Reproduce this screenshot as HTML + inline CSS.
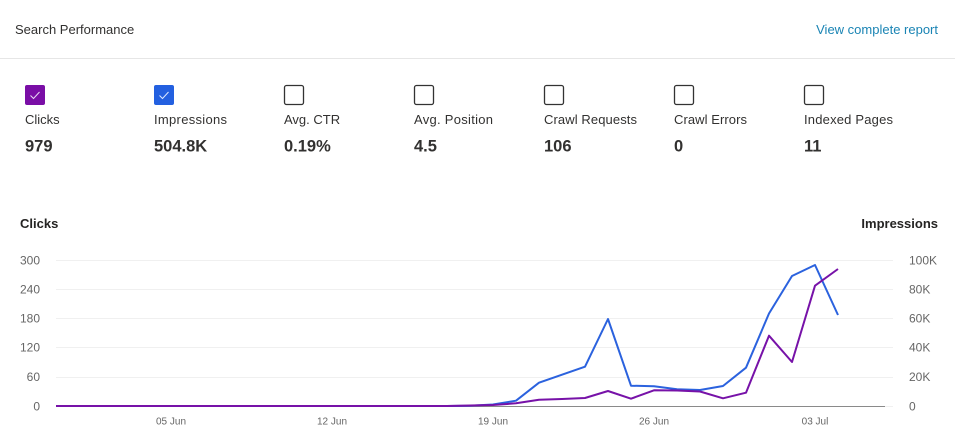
<!DOCTYPE html>
<html><head><meta charset="utf-8"><style>
html,body{margin:0;padding:0;background:#fff;}
svg{display:block;}
text{font-family:"Liberation Sans",Arial,sans-serif;}
</style></head><body>
<svg width="955" height="446" viewBox="0 0 955 446" xmlns="http://www.w3.org/2000/svg">
<rect width="955" height="446" fill="#fff"/>
<text x="15" y="34" font-size="13" fill="#323130">Search Performance</text>
<text x="938" y="34" font-size="13" fill="#1a84b4" text-anchor="end">View complete report</text>
<rect x="0" y="58" width="955" height="1" fill="#e6e6e6"/>

<!-- checkboxes -->
<rect x="25" y="85" width="20" height="20" rx="2" fill="#7a0ea6"/>
<path d="M30.5 95.5 L33.5 98.5 L39.5 92" stroke="#e8d8f4" stroke-width="1" fill="none"/>
<rect x="154" y="85" width="20" height="20" rx="2" fill="#2360e0"/>
<path d="M159.5 95.5 L162.5 98.5 L168.5 92" stroke="#dde8ff" stroke-width="1" fill="none"/>
<g fill="none" stroke="#333" stroke-width="1.3">
<rect x="284.5" y="85.5" width="19" height="19" rx="2"/>
<rect x="414.5" y="85.5" width="19" height="19" rx="2"/>
<rect x="544.5" y="85.5" width="19" height="19" rx="2"/>
<rect x="674.5" y="85.5" width="19" height="19" rx="2"/>
<rect x="804.5" y="85.5" width="19" height="19" rx="2"/>
</g>
<g font-size="13" fill="#323130" textLength="0">
<text x="25" y="124">Clicks</text>
<text x="154" y="124" textLength="73">Impressions</text>
<text x="284" y="124">Avg. CTR</text>
<text x="414" y="124" textLength="79">Avg. Position</text>
<text x="544" y="124" textLength="93">Crawl Requests</text>
<text x="674" y="124" textLength="73">Crawl Errors</text>
<text x="804" y="124" textLength="89">Indexed Pages</text>
</g>
<g font-size="16.5" font-weight="bold" fill="#323130">
<text x="25" y="151.5">979</text>
<text x="154" y="151.5">504.8K</text>
<text x="284" y="151.5">0.19%</text>
<text x="414" y="151.5">4.5</text>
<text x="544" y="151.5">106</text>
<text x="674" y="151.5">0</text>
<text x="804" y="151.5">11</text>
</g>

<!-- chart titles -->
<text x="20" y="228" font-size="13" font-weight="bold" fill="#252423">Clicks</text>
<text x="938" y="228" font-size="13" font-weight="bold" fill="#252423" text-anchor="end">Impressions</text>

<!-- gridlines -->
<g stroke="#f0f0f0" stroke-width="1">
<line x1="56" y1="260.5" x2="893" y2="260.5"/>
<line x1="56" y1="289.5" x2="893" y2="289.5"/>
<line x1="56" y1="318.5" x2="893" y2="318.5"/>
<line x1="56" y1="347.5" x2="893" y2="347.5"/>
<line x1="56" y1="377.5" x2="893" y2="377.5"/>
<line x1="56" y1="406.5" x2="893" y2="406.5"/>
</g>
<line x1="56" y1="406.5" x2="885" y2="406.5" stroke="#8a8a8a" stroke-width="1"/>

<!-- left ticks -->
<g font-size="12" fill="#666" text-anchor="end">
<text x="40" y="264.3">300</text>
<text x="40" y="293.5">240</text>
<text x="40" y="322.5">180</text>
<text x="40" y="351.5">120</text>
<text x="40" y="381">60</text>
<text x="40" y="410.3">0</text>
</g>
<!-- right ticks -->
<g font-size="12" fill="#666">
<text x="909" y="264.3">100K</text>
<text x="909" y="293.5">80K</text>
<text x="909" y="322.5">60K</text>
<text x="909" y="351.5">40K</text>
<text x="909" y="381">20K</text>
<text x="909" y="410.3">0</text>
</g>
<!-- x ticks -->
<g font-size="10" fill="#666" text-anchor="middle">
<text x="171" y="424.3">05 Jun</text>
<text x="332" y="424.3">12 Jun</text>
<text x="493" y="424.3">19 Jun</text>
<text x="654" y="424.3">26 Jun</text>
<text x="815" y="424.3">03 Jul</text>
</g>

<!-- series -->
<polyline fill="none" stroke="#2b62de" stroke-width="2" stroke-linejoin="round"
points="56,406 447,406 470,405.8 493,404.5 516,400.7 539,382.7 562,374.7 585,366.7 608,319 631,385.7 654,386.3 677,389.3 700,390 723,386 746,367.7 769,313.5 792,276 815,265 838,315"/>
<polyline fill="none" stroke="#7712a8" stroke-width="2" stroke-linejoin="round"
points="56,406 447,406 470,405.5 493,405 516,403.3 539,399.7 562,399 585,398 608,391 631,398.7 654,390.3 677,390.5 700,391.5 723,398.3 746,392.7 769,335.7 792,362 815,285.7 838,269"/>
</svg>
</body></html>
